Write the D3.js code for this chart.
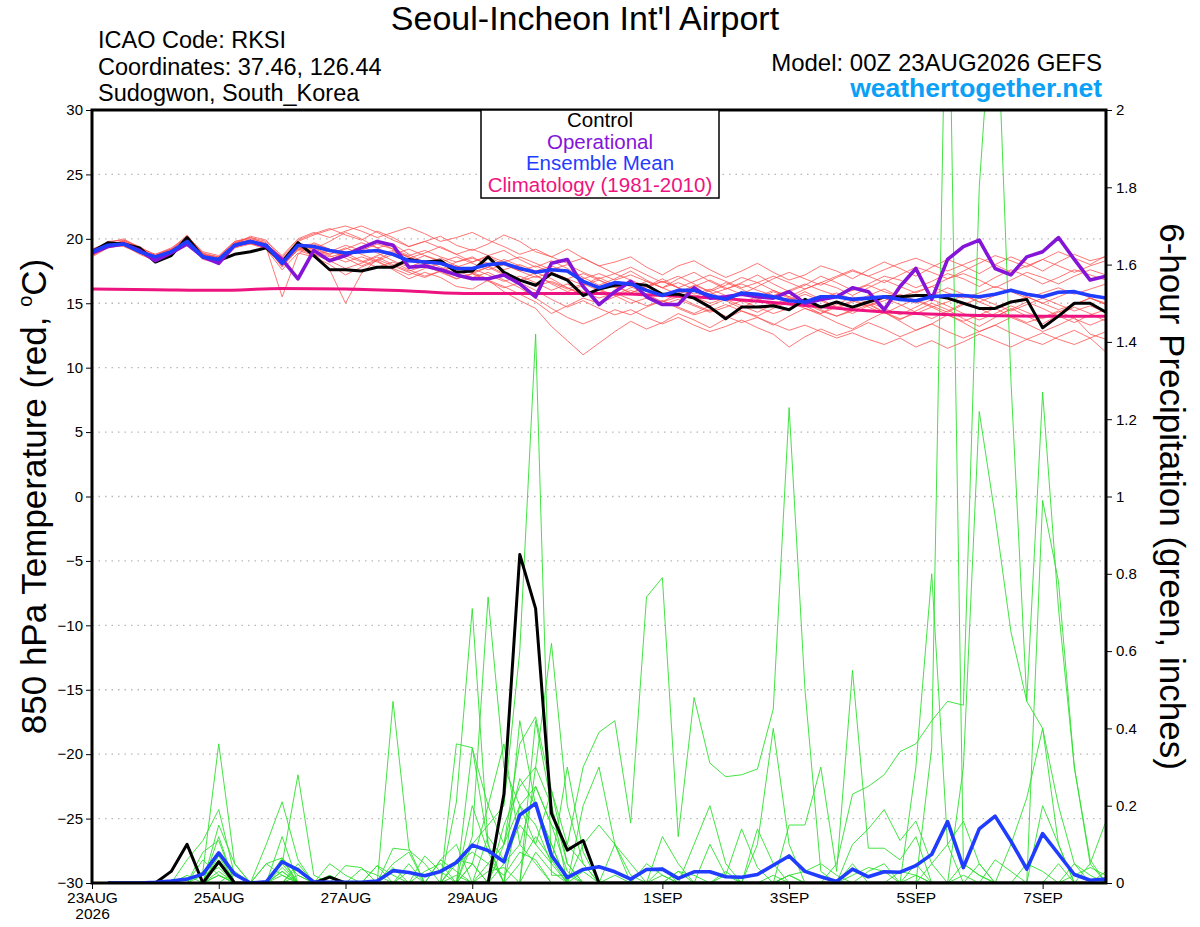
<!DOCTYPE html>
<html>
<head>
<meta charset="utf-8">
<title>RKSI GEFS meteogram</title>
<script src="https://cdn.jsdelivr.net/npm/d3@7"></script>
<style>
  body { margin: 0; background: #fff; }
  svg text { font-family: "Liberation Sans", Arial, Helvetica, sans-serif; }
</style>
</head>
<body>
<svg width="1200" height="927" id="mainsvg"></svg>
<script>
// ---- axis labels / ticks ----
const xTickSteps = [0, 8, 16, 24, 36, 44, 52, 60];   // 6-hour steps from 00Z 23AUG
const xTickLabels = ['23AUG', '25AUG', '27AUG', '29AUG', '1SEP', '3SEP', '5SEP', '7SEP'];
const tempTicks = [30, 25, 20, 15, 10, 5, 0, -5, -10, -15, -20, -25, -30];
const gridTemps = [25, 20, 15, 10, 5, 0, -5, -10, -15, -20, -25];
const precipTicks = [2, 1.8, 1.6, 1.4, 1.2, 1, 0.8, 0.6, 0.4, 0.2, 0];
const precipTickLabels = ['2', '1.8', '1.6', '1.4', '1.2', '1', '0.8', '0.6', '0.4', '0.2', '0'];

// ---- 850 hPa temperature, 6-hourly (65 steps) ----
const controlTemp = [19.0,19.7,19.6,19.3,18.2,18.7,20.1,18.6,18.3,18.8,19.0,19.3,
  18.2,19.7,18.7,17.6,17.6,17.5,17.8,17.8,18.4,18.2,18.3,17.4,
  17.5,18.6,17.4,16.8,16.4,17.3,16.8,15.6,16.1,16.4,16.5,16.4,
  15.7,15.7,15.4,14.7,13.8,14.7,14.7,14.8,14.5,15.3,14.7,15.1,
  14.7,15.1,15.5,15.5,15.6,15.6,15.4,15.0,14.6,14.6,15.1,15.3,
  13.1,14.0,15.0,15.0,14.3];
const operTemp = [18.9,19.4,19.6,19.1,18.3,18.9,19.6,18.6,18.1,19.5,19.8,19.4,
  18.4,16.9,19.1,18.3,18.7,19.3,19.8,19.5,17.8,17.9,17.6,17.2,
  16.9,16.9,17.2,16.5,15.5,18.1,18.4,16.3,14.9,15.9,16.7,15.5,
  14.9,14.9,16.2,15.4,15.5,15.7,15.5,15.4,15.9,15.0,15.3,15.5,
  16.2,15.9,14.5,16.3,17.7,15.3,18.4,19.4,19.9,17.7,17.2,18.6,
  19.0,20.1,18.4,16.8,17.1];
const meanTemp = [19.0,19.5,19.6,19.0,18.6,19.0,19.8,18.6,18.4,19.5,19.8,19.5,
  18.1,19.5,19.4,19.1,18.9,19.0,19.1,18.8,18.3,18.2,18.1,17.7,
  17.7,18.0,18.1,17.7,17.4,17.6,17.5,16.7,16.2,16.6,16.5,16.0,
  15.6,16.0,16.0,15.6,15.3,15.8,15.7,15.5,15.2,15.1,15.5,15.5,
  15.3,15.4,15.5,15.3,15.2,15.5,15.6,15.6,15.5,15.7,16.0,15.7,
  15.5,15.85,15.9,15.6,15.4];
// climatology, one value per day (00Z)
const climTemp = [16.1,16.05,16.0,16.15,16.1,15.95,15.75,15.75,15.75,15.6,15.35,14.95,14.5,14.2,14.05,14.0,14.0];

// ensemble members (red)
const tempMember01 = [18.9,19.6,19.8,19.2,18.4,18.9,20.0,18.9,18.2,19.7,20.1,19.6,
  18.6,19.9,20.4,20.8,20.3,19.9,20.6,20.1,19.4,19.8,20.2,19.5,
  19.1,19.6,20.3,19.8,19.0,18.6,19.2,18.5,17.9,18.2,18.6,17.8,
  17.2,17.9,18.3,17.6,17.0,17.5,18.1,17.4,16.8,17.2,17.9,17.5,
  16.9,17.6,18.2,17.7,17.1,17.8,18.4,17.9,17.3,18.0,18.6,18.1,
  17.5,18.2,18.8,18.3,18.6];
const tempMember02 = [19.1,19.4,19.5,18.8,18.3,18.8,19.6,18.4,18.1,19.3,19.6,19.2,
  17.6,18.9,18.6,18.0,17.2,17.8,18.3,17.6,16.9,17.4,17.0,16.3,
  16.1,16.8,15.9,15.2,14.6,13.2,12.1,11.0,11.9,12.8,13.6,13.0,
  13.5,14.2,13.7,13.1,13.8,14.4,13.9,13.3,14.0,14.6,14.1,13.5,
  13.0,13.7,14.3,13.6,12.9,13.4,14.1,13.5,12.8,13.3,13.9,13.4,
  12.8,13.3,13.9,12.6,12.2];
const tempMember03 = [18.7,19.3,19.9,19.4,18.7,19.2,20.3,18.8,18.6,19.8,20.0,19.7,
  18.3,19.6,19.2,19.8,20.5,20.0,19.3,19.6,18.8,18.1,17.6,18.2,
  18.6,17.9,17.3,16.8,17.4,16.9,16.2,15.6,16.1,16.7,16.3,15.7,
  15.1,15.8,16.4,15.9,15.2,14.6,15.3,15.9,15.4,14.8,14.2,14.9,
  15.5,15.0,14.3,13.7,14.4,15.0,14.5,13.8,13.2,13.9,14.6,14.0,
  13.4,14.1,14.7,14.2,13.6];
const tempMember04 = [19.2,19.7,19.6,19.1,18.5,19.0,19.7,18.5,18.3,19.4,19.9,19.3,
  15.5,18.8,19.7,19.2,18.6,19.3,19.8,19.2,18.5,18.9,19.4,18.8,
  18.2,18.7,19.1,18.4,17.8,18.3,17.7,17.0,16.4,16.9,17.5,16.8,
  16.2,16.9,17.4,16.7,16.1,16.6,17.2,16.5,15.9,16.4,17.1,16.6,
  16.0,16.5,17.1,16.8,16.2,16.7,17.3,16.9,16.3,17.0,17.6,17.1,
  16.5,17.0,17.6,17.2,16.8];
const tempMember05 = [18.8,19.5,19.7,19.0,18.7,19.1,19.9,18.7,18.5,19.6,19.7,19.4,
  18.0,19.4,18.9,17.6,15.0,17.3,18.4,19.0,18.6,18.0,18.5,17.9,
  17.3,17.8,18.4,17.9,17.2,16.5,15.9,16.4,17.0,16.4,15.8,16.3,
  16.9,16.2,15.5,16.0,16.6,16.1,15.4,14.8,15.3,15.9,15.3,14.7,
  14.2,14.8,15.4,14.9,14.3,13.8,14.4,15.0,14.6,14.0,14.5,15.1,
  14.6,14.0,13.5,14.1,14.5];
const tempMember06 = [19.0,19.8,19.9,19.3,18.6,18.9,19.8,18.8,18.5,19.6,20.2,19.9,
  18.4,19.8,20.3,20.7,21.0,20.6,20.1,20.5,20.9,20.4,19.8,20.1,
  20.5,19.9,19.4,18.8,19.2,18.6,18.1,18.5,17.9,17.3,17.8,17.2,
  16.6,17.1,16.5,15.9,16.4,17.0,16.6,16.0,15.5,16.1,16.6,16.2,
  15.6,16.2,16.8,16.3,15.8,16.3,16.9,17.3,16.8,16.2,16.8,17.4,
  17.0,16.5,17.1,17.6,17.2];
const tempMember07 = [18.9,19.4,19.6,18.9,18.4,18.8,19.5,18.5,18.3,19.4,19.7,19.3,
  17.9,19.2,19.0,18.6,18.9,18.3,17.8,18.2,17.6,17.1,17.5,16.9,
  17.3,16.7,16.2,16.6,16.0,15.3,14.7,15.2,14.6,14.1,14.5,13.9,
  13.4,13.9,13.3,12.8,13.2,13.7,13.1,12.6,11.6,12.4,13.0,12.5,
  12.9,13.5,13.0,12.4,12.9,13.4,12.8,12.3,12.8,13.3,12.7,12.2,
  11.8,12.4,12.9,12.3,11.2];
const tempMember08 = [19.1,19.6,19.8,19.0,18.8,19.3,20.1,18.9,18.6,19.7,19.9,19.6,
  18.5,19.7,19.3,18.8,19.2,19.7,19.3,18.7,18.2,18.7,18.3,17.8,
  18.2,18.6,18.0,17.5,17.9,17.4,16.9,17.3,16.8,16.2,16.6,16.1,
  15.6,16.0,15.5,15.0,15.4,15.9,15.3,14.8,15.2,15.7,15.2,14.6,
  15.1,15.6,16.1,15.5,15.0,15.6,16.2,15.7,15.1,15.6,16.1,15.5,
  15.0,15.5,16.0,15.4,14.9];
const tempMember09 = [18.6,19.3,19.5,18.9,18.5,18.9,19.6,18.6,18.4,19.5,19.8,19.5,
  18.2,19.5,19.6,19.2,18.7,18.2,18.7,19.1,18.6,18.1,17.5,17.9,
  17.4,17.8,17.2,16.7,17.1,16.6,16.1,16.5,16.0,15.6,16.2,16.7,
  16.2,15.7,16.3,16.8,16.2,15.7,16.3,16.9,17.4,16.9,16.4,17.0,
  17.5,17.1,16.6,17.2,17.8,17.4,16.9,17.5,18.1,18.7,18.3,17.8,
  18.4,19.0,18.5,18.0,18.7];
const tempMember10 = [19.0,19.5,19.7,19.2,18.5,18.7,19.9,18.7,18.2,19.3,19.8,19.5,
  17.9,19.3,19.1,18.7,18.2,18.6,18.2,17.7,17.2,17.7,18.1,17.6,
  17.0,17.4,16.8,16.2,15.4,14.6,13.9,13.4,13.9,14.5,14.1,14.7,
  15.2,14.7,14.2,14.8,15.3,14.8,14.3,14.9,15.4,15.0,14.4,14.0,
  14.5,15.1,14.6,14.1,14.7,15.3,14.8,14.2,13.7,14.2,14.8,14.3,
  13.8,14.3,14.9,15.4,14.9];
const tempMember11 = [18.8,19.7,20.0,19.3,18.6,19.1,20.2,19.0,18.7,19.8,20.1,19.8,
  18.7,20.0,20.5,20.1,20.6,21.0,20.5,19.9,19.4,19.8,19.3,18.8,
  19.2,18.7,18.2,18.6,18.1,17.6,18.0,17.4,16.9,17.3,16.8,16.3,
  16.7,16.2,15.7,16.1,15.6,15.1,15.5,16.0,15.5,15.0,15.4,15.8,
  15.3,14.8,15.2,15.7,15.2,14.7,15.1,15.6,15.1,14.6,15.0,15.5,
  15.0,14.5,14.9,15.4,15.0];
const tempMember12 = [19.2,19.5,19.6,19.1,18.7,19.2,19.7,18.6,18.4,19.5,19.6,19.4,
  18.0,19.3,19.0,18.4,18.9,19.4,18.9,18.3,17.8,18.3,17.8,17.3,
  17.7,17.2,16.7,17.1,16.6,16.0,16.5,15.9,15.4,15.8,15.3,14.8,
  15.2,14.6,14.1,14.5,14.0,13.5,13.9,13.4,12.9,13.3,12.8,12.3,
  12.7,12.2,11.8,12.3,11.6,12.1,11.5,12.0,12.6,12.1,11.6,12.2,
  12.7,12.2,11.8,12.3,12.8];
const tempMember13 = [18.9,19.6,19.7,19.1,18.5,19.0,19.8,18.7,18.5,19.6,19.9,19.6,
  18.3,19.6,19.4,19.0,19.5,19.1,19.6,19.2,18.7,19.1,18.6,18.2,
  18.5,18.1,17.6,18.0,17.5,17.9,17.4,16.9,17.3,16.8,17.2,16.7,
  16.2,16.6,16.1,15.7,16.1,16.5,16.0,15.6,16.0,16.5,16.0,15.6,
  16.0,16.4,15.9,15.5,15.9,16.3,15.8,15.4,15.8,16.3,15.9,15.4,
  15.8,16.2,15.7,16.1,16.5];
const tempMember14 = [19.0,19.4,19.5,19.0,18.4,18.8,19.6,18.5,18.2,19.4,19.7,19.4,
  17.8,19.2,18.8,18.3,17.7,18.1,18.6,18.0,17.5,17.9,17.4,16.9,
  17.3,16.8,16.3,15.7,15.1,14.2,14.8,15.4,15.0,15.5,16.0,15.6,
  15.1,15.5,14.9,14.4,14.9,14.4,14.0,14.6,15.1,14.6,14.2,14.7,
  15.2,14.7,14.2,14.8,15.3,14.8,14.3,14.9,15.4,14.9,14.4,14.9,
  15.4,14.9,14.4,14.8,14.3];
const tempMember15 = [18.7,19.5,19.8,19.3,18.8,19.2,20.0,18.8,18.5,19.5,19.8,19.5,
  18.1,19.4,19.2,18.8,19.3,18.8,18.3,18.8,19.2,18.7,18.2,18.6,
  18.1,17.6,18.0,17.5,17.0,17.4,16.9,16.4,16.8,16.3,15.8,16.2,
  16.7,16.2,16.7,17.2,16.7,16.2,16.6,17.1,16.6,16.1,16.6,17.1,
  17.6,17.1,17.6,18.1,18.5,18.0,17.5,18.0,18.5,18.0,17.4,17.9,
  18.4,17.9,17.4,17.9,18.3];
const tempMember16 = [19.1,19.6,19.4,18.9,18.3,18.9,19.7,18.6,18.3,19.4,19.7,19.4,
  18.0,19.1,18.7,19.1,18.5,17.9,18.4,17.9,17.4,17.0,17.5,17.9,
  17.4,16.9,17.3,16.8,16.3,16.7,16.2,15.7,16.1,15.6,15.0,15.4,
  14.9,15.3,14.8,14.3,14.7,15.2,14.7,14.2,14.6,15.1,14.5,14.0,
  14.4,14.9,14.3,13.8,14.2,14.7,14.1,13.6,14.1,14.6,14.0,13.5,
  13.9,14.4,13.8,13.3,13.8];
const tempMembers = [tempMember01, tempMember02, tempMember03, tempMember04, tempMember05, tempMember06,
  tempMember07, tempMember08, tempMember09, tempMember10, tempMember11, tempMember12,
  tempMember13, tempMember14, tempMember15, tempMember16];

// ---- 6-hour precipitation (inches), steps 1..64 ----
const controlPrecip = [0,0,0,0,0.03,0.10,0,0.055, 0,0,0,0,0,0,0.015,0,
  0,0,0,0,0,0,0,0, 0,0.23,0.85,0.71,0.18,0.085,0.11,0,
  0,0,0,0,0,0,0,0, 0,0,0,0,0,0,0,0,
  0,0,0,0,0,0,0,0, 0,0,0,0,0,0,0,0];
const meanPrecip = [0,0,0,0.002,0.005,0.01,0.023,0.078, 0.023,0,0.003,0.055,0.034,0.003,0.002,0.002,
  0.002,0.005,0.032,0.027,0.019,0.03,0.053,0.098, 0.084,0.055,0.176,0.206,0.072,0.014,0.035,0.042,
  0.029,0.01,0.035,0.036,0.012,0.029,0.029,0.016, 0.015,0.022,0.046,0.07,0.03,0.016,0.004,0.036,
  0.016,0.029,0.028,0.045,0.074,0.159,0.04,0.14, 0.173,0.108,0.036,0.128,0.075,0.022,0.007,0.01];

// ensemble members (green)
const precipMember01 = [0,0,0,0,0,0,0.03,0.36, 0.05,0,0,0.05,0.28,0.02,0,0,
  0,0,0.05,0.08,0,0,0.36,0.35, 0.2,0.1,0.36,0.43,0.24,0.1,0.3,0.39,
  0.42,0.155,0.74,0.79,0.12,0.48,0.31,0.275, 0.28,0.295,0.45,1.23,0.5,0.03,0,0.05,
  0,0,0,0.02,0,0,0,0.05, 0,0,0,0.2,0.1,0,0,0];
const precipMember02 = [0,0,0,0,0,0,0,0.12, 0,0,0,0.03,0,0,0,0,
  0,0,0,0,0,0,0,0.1, 0.15,0.2,0.6,1.42,0.02,0.02,0,0,
  0,0,0,0.02,0,0,0,0, 0,0,0,0,0,0,0,0,
  0,0,0,0.3,0.8,0.1,0,0, 0,0,0,0.99,0.78,0.3,0.05,0];
const precipMember03 = [0,0,0,0,0,0.06,0.11,0.19, 0.02,0,0.1,0.21,0.06,0,0,0,
  0,0,0.47,0.09,0,0,0.21,0.71, 0.1,0,0,0.3,0.62,0.2,0.05,0,
  0,0,0,0,0,0,0,0, 0,0,0,0.15,0.15,0.3,0.03,0.55,
  0.09,0.09,0.06,0.12,0,0,0,0, 0,0,0,0,0,0,0,0];
const precipMember04 = [0,0,0,0,0,0,0,0.08, 0,0,0,0.12,0,0,0,0.045,
  0.04,0,0,0,0,0,0,0.12, 0.74,0.3,0.2,0.25,0.15,0.03,0,0,
  0,0,0,0,0,0,0,0, 0,0,0,0,0,0,0.05,0.23,
  0.25,0.28,0.34,0.36,0.42,0.47,0.46,1.8, 2.4,1.3,0.47,0.4,0.2,0.05,0,0];
const precipMember05 = [0,0,0,0,0,0,0.08,0.11, 0,0,0,0.065,0,0,0,0,
  0,0,0,0,0,0.06,0.1,0, 0,0,0.42,0.2,0.1,0,0.1,0.15,
  0.1,0,0,0,0,0,0.1,0.02, 0,0,0,0,0,0,0,0,
  0,0,0,0,0.35,2.6,0.05,0.02, 0,0,0,0,0,0,0.05,0.16];
const precipMember06 = [0,0,0,0,0,0,0,0.15, 0.05,0,0,0,0.04,0,0,0,
  0,0.045,0,0,0,0,0,0, 0,0.15,0.25,0.3,0.2,0,0,0,
  0,0,0,0.12,0.05,0,0,0, 0,0,0,0,0,0,0,0,
  0,0,0,0,0,0,0.3,1.22, 0.95,0.65,0.47,1.27,0.71,0.3,0.06,0];
const precipMember07 = [0,0,0,0,0,0,0,0.02, 0,0,0.05,0.065,0.02,0,0,0,
  0,0,0,0,0,0,0,0.05, 0.2,0.36,0.1,0.05,0,0,0.2,0.3,
  0.1,0.02,0,0,0,0.1,0.2,0.05, 0,0.14,0.05,0,0,0,0,0.1,
  0.14,0.19,0.11,0.16,0.05,0,0,0, 0,0,0,0,0,0,0,0];
const precipMember08 = [0,0,0,0,0,0,0,0.05, 0,0,0,0.05,0,0,0.05,0.02,
  0,0,0,0,0.07,0.03,0,0.35, 0.1,0,0.2,0.15,0.05,0.3,0.08,0,
  0,0,0,0,0,0,0,0, 0,0,0,0,0,0,0,0,
  0,0,0,0,0,0,0.05,0.02, 0,0.1,0.22,0.4,0.1,0,0,0];
const precipMember09 = [0,0,0,0,0,0.02,0,0.06, 0,0,0.05,0.02,0,0,0,0,
  0,0,0.09,0.085,0.05,0,0.06,0.05, 0,0.05,0.1,0.25,0.15,0.1,0.05,0,
  0,0,0,0,0.03,0.02,0,0, 0,0,0,0.02,0,0,0,0,
  0,0,0,0,0.05,0.1,0.16,0.05, 0,0,0,0,0,0,0,0];
const precipMember10 = [0,0,0,0,0,0,0,0.03, 0,0,0,0.02,0,0,0,0,
  0.036,0.02,0,0,0,0,0.05,0.08, 0.05,0.1,0.2,0.1,0.05,0,0,0,
  0,0,0.05,0.02,0,0,0,0, 0,0.1,0.4,0.1,0,0,0,0.02,
  0.04,0.03,0,0,0,0,0,0, 0,0,0,0,0,0.05,0.02,0];
const precipMember11 = [0,0,0,0,0,0,0.06,0.02, 0,0,0,0,0.02,0,0,0,
  0,0,0,0.05,0,0.06,0.03,0, 0,0.1,0.27,0.2,0.1,0,0,0,
  0.1,0.05,0,0,0,0,0,0.02, 0.14,0.04,0,0,0,0,0,0,
  0,0,0,0.05,0,0,0,0, 0.06,0.03,0,0,0,0,0,0];
const precipMember12 = [0,0,0,0,0,0,0,0.02, 0,0,0,0,0.05,0,0,0,
  0,0.045,0.02,0,0,0,0,0, 0.12,0.06,0.15,0.1,0.24,0.05,0,0,
  0,0,0,0,0.03,0,0,0, 0,0,0,0.02,0,0,0,0,
  0,0,0,0,0,0,0,0, 0,0,0,0,0,0,0,0];
const precipMember13 = [0,0,0,0,0,0,0,0, 0.03,0,0,0.04,0,0,0.02,0,
  0,0,0,0,0.03,0.05,0,0.2, 0.08,0,0.05,0.12,0.06,0,0.03,0,
  0,0,0,0,0,0,0,0, 0,0,0,0,0,0,0,0,
  0.03,0.05,0,0,0,0,0,0, 0,0,0.05,0.03,0,0,0,0];
const precipMember14 = [0,0,0,0,0,0,0,0.05, 0,0,0,0.03,0,0,0,0,
  0,0,0,0,0,0,0,0.05, 0,0,0,0.42,0.2,0.05,0,0,
  0,0,0,0,0,0,0,0, 0,0,0,0.02,0.03,0.05,0.02,0,
  0,0,0,0,0,0,0,0, 0,0,0,0,0,0.02,0.04,0.02];
const precipMember15 = [0,0,0,0,0,0,0.02,0.04, 0,0,0,0,0,0,0,0,
  0,0,0,0.03,0,0,0.02,0, 0.05,0.02,0.08,0.06,0,0,0,0,
  0.02,0,0,0,0,0,0,0.03, 0,0,0,0,0,0,0,0,
  0,0,0.03,0.02,0,0,0,0, 0,0,0,0,0,0,0,0];
const precipMember16 = [0,0,0,0,0,0,0,0.07, 0,0,0,0.06,0,0,0,0,
  0,0,0.04,0,0,0,0,0, 0.03,0.04,0,0.08,0.03,0,0,0,
  0,0,0,0.04,0,0,0,0, 0,0,0.02,0,0,0,0,0,
  0,0,0,0,0,0,0.02,0, 0,0,0,0,0.05,0,0,0.03];
const precipMembers = [precipMember01, precipMember02, precipMember03, precipMember04, precipMember05,
  precipMember06, precipMember07, precipMember08, precipMember09, precipMember10, precipMember11,
  precipMember12, precipMember13, precipMember14, precipMember15, precipMember16];

// ---- layout ----
const svg = d3.select('#mainsvg');
const width = +svg.attr('width');
const height = +svg.attr('height');
const margin = {top: 110, right: 94, bottom: 44, left: 92};
const innerWidth = width - margin.left - margin.right;
const innerHeight = height - margin.top - margin.bottom;

const colors = {member: '#ff4c4c', precip: '#2ee02e', control: '#000000', oper: '#8414d8',
  mean: '#1f3cff', clim: '#ee1480', web: '#0aa0f5'};

const xScale = d3.scaleLinear().domain([0, 64]).range([0, innerWidth]);
const yTemp = d3.scaleLinear().domain([-30, 30]).range([innerHeight, 0]);
const yPrecip = d3.scaleLinear().domain([0, 2]).range([innerHeight, 0]);

const g = svg.append('g').attr('transform', `translate(${margin.left}, ${margin.top})`);

svg.append('defs').append('clipPath').attr('id', 'plotClip')
  .append('rect').attr('x', 0).attr('y', 0).attr('width', innerWidth).attr('height', innerHeight);

// dotted grid
g.selectAll('.grid').data(gridTemps).join('line')
  .attr('class', 'grid')
  .attr('x1', 0).attr('x2', innerWidth)
  .attr('y1', d => yTemp(d)).attr('y2', d => yTemp(d))
  .attr('stroke', '#b8b8b8').attr('stroke-width', 1.3).attr('stroke-dasharray', '1.5,5');

const plot = g.append('g').attr('clip-path', 'url(#plotClip)');

const tempLine = d3.line().x((d, i) => xScale(i)).y(d => yTemp(d));
const precipLine = d3.line().x((d, i) => xScale(i + 1)).y(d => yPrecip(d));
const climLine = d3.line().x((d, i) => xScale(i * 4)).y(d => yTemp(d)).curve(d3.curveMonotoneX);

plot.selectAll('.tmember').data(tempMembers).join('path')
  .attr('class', 'tmember').attr('d', tempLine)
  .attr('fill', 'none').attr('stroke', colors.member).attr('stroke-width', 0.9).attr('stroke-opacity', 0.85);

plot.selectAll('.pmember').data(precipMembers).join('path')
  .attr('class', 'pmember').attr('d', precipLine)
  .attr('fill', 'none').attr('stroke', colors.precip).attr('stroke-width', 0.9);

plot.append('path').datum(climTemp).attr('d', climLine)
  .attr('fill', 'none').attr('stroke', colors.clim).attr('stroke-width', 3);

plot.append('path').datum(controlTemp).attr('d', tempLine)
  .attr('fill', 'none').attr('stroke', colors.control).attr('stroke-width', 3).attr('stroke-linejoin', 'round');
plot.append('path').datum(operTemp).attr('d', tempLine)
  .attr('fill', 'none').attr('stroke', colors.oper).attr('stroke-width', 3.6).attr('stroke-linejoin', 'round');
plot.append('path').datum(meanTemp).attr('d', tempLine)
  .attr('fill', 'none').attr('stroke', colors.mean).attr('stroke-width', 3.6).attr('stroke-linejoin', 'round');

plot.append('path').datum(controlPrecip).attr('d', precipLine)
  .attr('fill', 'none').attr('stroke', colors.control).attr('stroke-width', 3).attr('stroke-linejoin', 'round');
plot.append('path').datum(meanPrecip).attr('d', precipLine)
  .attr('fill', 'none').attr('stroke', colors.mean).attr('stroke-width', 3.6).attr('stroke-linejoin', 'round');

// axes
const yAxisLeft = d3.axisLeft(yTemp).tickValues(tempTicks).tickSize(6).tickSizeOuter(0).tickPadding(3);
const yAxisRight = d3.axisRight(yPrecip).tickValues(precipTicks).tickSize(6).tickSizeOuter(0).tickPadding(4)
  .tickFormat((d, i) => precipTickLabels[i]);
const xAxis = d3.axisBottom(xScale).tickValues(xTickSteps).tickSize(6).tickSizeOuter(0).tickPadding(3)
  .tickFormat((d, i) => xTickLabels[i]);

const leftAxisGroup = g.append('g').call(yAxisLeft);
const rightAxisGroup = g.append('g').attr('transform', `translate(${innerWidth}, 0)`).call(yAxisRight);
const xAxisGroup = g.append('g').attr('transform', `translate(0, ${innerHeight})`).call(xAxis);
[leftAxisGroup, rightAxisGroup, xAxisGroup].forEach(a => {
  a.select('.domain').remove();
  a.selectAll('.tick text').attr('font-size', 15).attr('fill', '#000');
  a.selectAll('.tick line').attr('stroke', '#000').attr('stroke-width', 1);
});
xAxisGroup.selectAll('.tick text').attr('font-size', 15.5);
xAxisGroup.select('.tick').append('text')
  .attr('y', 25).attr('dy', '0.71em').attr('text-anchor', 'middle')
  .attr('font-size', 15.5).attr('fill', '#000').text('2026');

// frame
g.append('rect').attr('x', 0).attr('y', 0).attr('width', innerWidth).attr('height', innerHeight)
  .attr('fill', 'none').attr('stroke', '#000').attr('stroke-width', 3);

// axis titles
svg.append('text')
  .attr('transform', `translate(46, ${margin.top + innerHeight / 2}) rotate(-90)`)
  .attr('text-anchor', 'middle').attr('font-size', 35)
  .text('850 hPa Temperature (red, ')
  .call(t => t.append('tspan').attr('font-size', 20).attr('dy', -14).text('o'))
  .call(t => t.append('tspan').attr('dy', 14).text('C)'));
svg.append('text')
  .attr('transform', `translate(1160, ${margin.top + innerHeight / 2}) rotate(90)`)
  .attr('text-anchor', 'middle').attr('font-size', 35)
  .text('6-hour Precipitation (green, inches)');

// header
svg.append('text').attr('x', 585).attr('y', 30).attr('text-anchor', 'middle')
  .attr('font-size', 34).text("Seoul-Incheon Int'l Airport");
const infoLines = ['ICAO Code: RKSI', 'Coordinates: 37.46, 126.44', 'Sudogwon, South_Korea'];
svg.selectAll('.info').data(infoLines).join('text')
  .attr('class', 'info').attr('x', 98).attr('y', (d, i) => 48 + i * 26.5)
  .attr('font-size', 23.5).text(d => d);
svg.append('text').attr('x', 1102).attr('y', 71).attr('text-anchor', 'end')
  .attr('font-size', 24).text('Model: 00Z 23AUG2026 GEFS');
svg.append('text').attr('x', 1102).attr('y', 97).attr('text-anchor', 'end')
  .attr('font-size', 26.5).attr('font-weight', 'bold').attr('fill', colors.web).text('weathertogether.net');

// legend
const legendItems = ['Control', 'Operational', 'Ensemble Mean', 'Climatology (1981-2010)'];
const legendColors = [colors.control, colors.oper, colors.mean, colors.clim];
const legend = g.append('g').attr('transform', `translate(${481 - margin.left}, 0)`);
legend.append('rect').attr('x', 0).attr('y', 0).attr('width', 238).attr('height', 88)
  .attr('fill', '#fff').attr('stroke', '#000').attr('stroke-width', 1.5);
legend.selectAll('text').data(legendItems).join('text')
  .attr('x', 119).attr('y', (d, i) => 17 + i * 21.5)
  .attr('text-anchor', 'middle').attr('font-size', 20.5)
  .attr('fill', (d, i) => legendColors[i]).text(d => d);
</script>
</body>
</html>
